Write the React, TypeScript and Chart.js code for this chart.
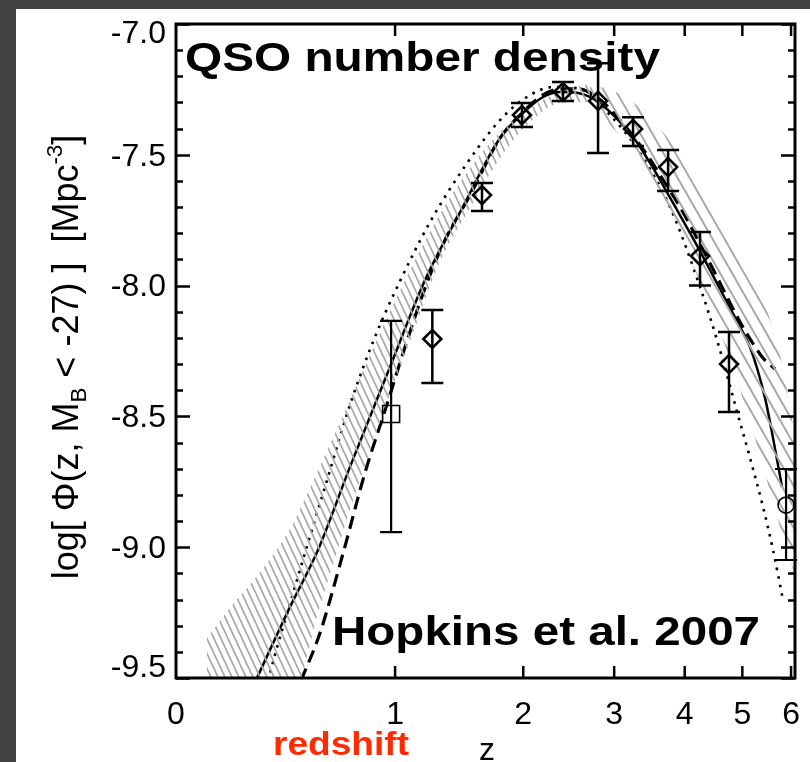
import React, { useEffect, useRef } from 'react';
import { Chart, registerables } from 'chart.js';

Chart.register(...registerables);

// ---------- axis ticks ----------
const zTicks = [0, 1, 2, 3, 4, 5, 6];
const zTickLabels = ['0', '1', '2', '3', '4', '5', '6'];
const yMajorTicks = [-7.0, -7.5, -8.0, -8.5, -9.0, -9.5];
const yTickLabels = ['-7.0', '-7.5', '-8.0', '-8.5', '-9.0', '-9.5'];

// ---------- best fit (solid) ----------
const solidZ = [0.288, 0.434, 0.567, 0.734, 0.968, 1.199, 1.457, 1.788, 1.988, 2.194, 2.371, 2.568, 2.801, 3.245, 3.480, 3.819, 4.085, 4.248, 4.591, 4.956, 5.148, 5.447, 5.612, 5.803];
const solidY = [-9.508, -9.229, -9.011, -8.693, -8.311, -7.979, -7.719, -7.436, -7.344, -7.279, -7.260, -7.264, -7.298, -7.432, -7.531, -7.684, -7.799, -7.868, -8.013, -8.158, -8.235, -8.430, -8.583, -8.770];

// ---------- dashed model ----------
const dashedZ = [0.485, 0.577, 0.697, 0.818, 0.938, 1.064, 1.199, 1.342, 1.536, 1.788, 1.988, 2.194, 2.371, 2.568, 2.801, 3.074, 3.410, 3.669, 3.927, 4.248, 4.591, 4.956, 5.187, 5.406, 5.654];
const dashedY = [-9.511, -9.328, -9.022, -8.716, -8.476, -8.235, -8.009, -7.826, -7.654, -7.436, -7.340, -7.271, -7.248, -7.248, -7.283, -7.367, -7.489, -7.596, -7.700, -7.841, -7.990, -8.139, -8.216, -8.277, -8.319];

// ---------- dotted model ----------
const dottedZ = [0.338, 0.376, 0.434, 0.504, 0.613, 0.734, 0.877, 1.032, 1.234, 1.496, 1.788, 2.036, 2.296, 2.591, 2.948, 3.341, 3.773, 4.248, 4.538, 4.918, 5.148, 5.406, 5.612, 5.824];
const dottedY = [-9.511, -9.385, -9.217, -9.022, -8.743, -8.456, -8.196, -7.982, -7.757, -7.543, -7.367, -7.279, -7.241, -7.248, -7.348, -7.493, -7.700, -8.005, -8.208, -8.495, -8.659, -8.846, -9.011, -9.202];

// ---------- uncertainty band (rising side) ----------
const bandLeftZ = [0.103, 0.186, 0.305, 0.434, 0.577, 0.734, 0.907, 1.097, 1.305, 1.536, 1.788, 2.065, 2.371, 2.706];
const bandLeftUpper = [-9.347, -9.232, -9.095, -8.930, -8.690, -8.437, -8.181, -7.940, -7.726, -7.550, -7.413, -7.320, -7.258, -7.229];
const bandLeftLower = [-9.584, -9.584, -9.584, -9.584, -9.225, -8.858, -8.521, -8.212, -7.910, -7.703, -7.512, -7.375, -7.302, -7.298];

// ---------- uncertainty band (falling side) ----------
const bandRightZ = [2.706, 3.074, 3.480, 3.927, 4.417, 4.956, 5.345, 5.654, 5.977, 6.088];
const bandRightUpper = [-7.229, -7.268, -7.356, -7.501, -7.680, -7.883, -8.036, -8.189, -8.456, -8.590];
const bandRightLower = [-7.298, -7.432, -7.615, -7.826, -8.074, -8.399, -8.648, -8.858, -9.049, -9.106];

// ---------- data points ----------
const diamondZ = [1.25, 1.633, 1.988, 2.402, 2.801, 3.246, 3.744, 4.248, 4.752];
const diamondY = [-8.204, -7.654, -7.348, -7.260, -7.294, -7.401, -7.547, -7.887, -8.300];
const diamondLo = [-8.372, -7.715, -7.394, -7.294, -7.493, -7.466, -7.638, -8.000, -8.483];
const diamondHi = [-8.093, -7.608, -7.302, -7.222, -7.150, -7.356, -7.482, -7.795, -8.177];

const squareZ = [0.975];
const squareY = [-8.491];
const squareLo = [-8.942];
const squareHi = [-8.135];

const circleZ = [5.89];
const circleY = [-8.839];
const circleLo = [-9.049];
const circleHi = [-8.701];

// ---------- texts ----------
const titleText = 'QSO number density';
const refText = 'Hopkins et al. 2007';
const redshiftText = 'redshift';
const xTitleText = 'z';
const yTitlePieces = [
  { t: 'log[ Φ(z, M', s: 1, dy: 0 },
  { t: 'B', s: 0.62, dy: 0.22 },
  { t: ' < -27) ]  [Mpc', s: 1, dy: 0 },
  { t: '-3', s: 0.62, dy: -0.45 },
  { t: ']', s: 1, dy: 0 },
];

const FONT = '"Liberation Sans", Arial, Helvetica, sans-serif';
const lx = (z: number) => Math.log10(1 + z);
const pts = (zs: number[], ys: number[]) => zs.map((z, i) => ({ x: lx(z), y: ys[i] }));

function makeHatch(w: number, h: number, color: string, lw: number) {
  const c = document.createElement('canvas');
  c.width = w;
  c.height = h;
  const g = c.getContext('2d')!;
  g.strokeStyle = color;
  g.lineWidth = lw;
  for (const dx of [-w, 0, w]) {
    g.beginPath();
    g.moveTo(dx - w * 0.5, -h * 0.5);
    g.lineTo(dx + w * 1.5, h * 1.5);
    g.stroke();
  }
  return g.createPattern(c, 'repeat')!;
}

function stretchText(ctx: CanvasRenderingContext2D, text: string, x: number, y: number, font: string, align: CanvasTextAlign, target?: number) {
  ctx.font = font;
  const w = ctx.measureText(text).width;
  const sx = target ? target / w : 1;
  ctx.save();
  ctx.translate(x, y);
  ctx.scale(sx, 1);
  ctx.textAlign = align;
  ctx.textBaseline = 'alphabetic';
  ctx.fillText(text, 0, 0);
  ctx.restore();
}

const errorBarPlugin = {
  id: 'errBars',
  afterDatasetsDraw(chart: any) {
    const { ctx, scales } = chart;
    const x = scales.x;
    const y = scales.y;
    const groups = [
      { z: diamondZ, lo: diamondLo, hi: diamondHi, lw: 2.5 },
      { z: squareZ, lo: squareLo, hi: squareHi, lw: 2.2 },
      { z: circleZ, lo: circleLo, hi: circleHi, lw: 2.2 },
    ];
    ctx.save();
    ctx.strokeStyle = '#000';
    ctx.lineCap = 'butt';
    const half = 11;
    for (const g of groups) {
      ctx.lineWidth = g.lw;
      g.z.forEach((z, i) => {
        const px = x.getPixelForValue(lx(z));
        const p1 = y.getPixelForValue(g.lo[i]);
        const p2 = y.getPixelForValue(g.hi[i]);
        ctx.beginPath();
        ctx.moveTo(px, p1);
        ctx.lineTo(px, p2);
        ctx.moveTo(px - half, p1);
        ctx.lineTo(px + half, p1);
        ctx.moveTo(px - half, p2);
        ctx.lineTo(px + half, p2);
        ctx.stroke();
      });
    }
    ctx.restore();
  },
};

const framePlugin = {
  id: 'frameTicks',
  afterDraw(chart: any) {
    const { ctx, chartArea: a, scales } = chart;
    const x = scales.x;
    const y = scales.y;
    ctx.save();
    ctx.strokeStyle = '#000';
    ctx.lineWidth = 2.5;
    ctx.beginPath();
    for (let i = 0; i <= 25; i++) {
      const v = -9.5 + i * 0.1;
      const py = Math.round(y.getPixelForValue(v)) + 0.5;
      const len = i % 5 === 0 ? 14 : 7;
      ctx.moveTo(a.left, py);
      ctx.lineTo(a.left + len, py);
      ctx.moveTo(a.right, py);
      ctx.lineTo(a.right - len, py);
    }
    zTicks.forEach((z) => {
      if (z === 0) return;
      const px = x.getPixelForValue(lx(z));
      ctx.moveTo(px, a.bottom);
      ctx.lineTo(px, a.bottom - 12);
      ctx.moveTo(px, a.top);
      ctx.lineTo(px, a.top + 12);
    });
    ctx.stroke();
    ctx.lineWidth = 3;
    ctx.strokeRect(a.left, a.top, a.right - a.left, a.bottom - a.top);

    ctx.fillStyle = '#000';
    ctx.font = `32px ${FONT}`;
    ctx.textAlign = 'right';
    ctx.textBaseline = 'middle';
    yMajorTicks.forEach((v, i) => {
      let py = y.getPixelForValue(v) + 2;
      py = Math.max(a.top + 10, Math.min(a.bottom - 10, py));
      ctx.fillText(yTickLabels[i], 166, py);
    });
    ctx.textAlign = 'center';
    ctx.textBaseline = 'alphabetic';
    zTicks.forEach((z, i) => {
      const px = x.getPixelForValue(lx(z));
      ctx.fillText(zTickLabels[i], px, 724);
    });

    ctx.font = `32px ${FONT}`;
    ctx.fillText(xTitleText, 487, 760);
    ctx.fillStyle = '#ff2a00';
    stretchText(ctx, redshiftText, 341, 755, `bold 34px ${FONT}`, 'center', 136);

    ctx.fillStyle = '#000';
    const base = 36;
    ctx.save();
    ctx.translate(78, 357);
    ctx.rotate(-Math.PI / 2);
    let total = 0;
    for (const p of yTitlePieces) {
      ctx.font = `${base * p.s}px ${FONT}`;
      total += ctx.measureText(p.t).width;
    }
    let cx = -total / 2;
    ctx.textAlign = 'left';
    ctx.textBaseline = 'alphabetic';
    for (const p of yTitlePieces) {
      ctx.font = `${base * p.s}px ${FONT}`;
      ctx.fillText(p.t, cx, p.dy * base);
      cx += ctx.measureText(p.t).width;
    }
    ctx.restore();

    stretchText(ctx, titleText, 185, 71, `bold 41px ${FONT}`, 'left', 475);
    stretchText(ctx, refText, 332, 645, `bold 41px ${FONT}`, 'left', 428);
    ctx.restore();
  },
};

export default function App() {
  const ref = useRef<HTMLCanvasElement>(null);
  useEffect(() => {
    const canvas = ref.current!;
    const hatchLeft = makeHatch(7, 15, '#a8a8a8', 1.7);
    const hatchRight = makeHatch(12, 21, '#a8a8a8', 2);
    const lineBase = { pointRadius: 0, fill: false, cubicInterpolationMode: 'monotone' as const, order: 5 };
    const bandBase = { borderWidth: 0, pointRadius: 0, borderColor: 'rgba(0,0,0,0)', cubicInterpolationMode: 'monotone' as const, order: 3 };
    const chart = new Chart(canvas, {
      type: 'line',
      data: {
        datasets: [
          { ...bandBase, data: pts(bandLeftZ, bandLeftUpper), fill: '+1', backgroundColor: hatchLeft },
          { ...bandBase, data: pts(bandLeftZ, bandLeftLower), fill: false },
          { ...bandBase, data: pts(bandRightZ, bandRightUpper), fill: '+1', backgroundColor: hatchRight },
          { ...bandBase, data: pts(bandRightZ, bandRightLower), fill: false },
          { ...lineBase, data: pts(dottedZ, dottedY), borderColor: '#000', borderWidth: 2.6, borderDash: [2.6, 6] },
          { ...lineBase, data: pts(dashedZ, dashedY), borderColor: '#000', borderWidth: 3.2, borderDash: [13, 7] },
          { ...lineBase, data: pts(solidZ, solidY), borderColor: '#000', borderWidth: 2.5 },
          { data: pts(squareZ, squareY), showLine: false, pointStyle: 'rect', pointRadius: 12, borderWidth: 1.6, borderColor: '#000', backgroundColor: 'rgba(0,0,0,0)', order: 1 },
          { data: pts(diamondZ, diamondY), showLine: false, pointStyle: 'rectRot', pointRadius: 9, borderWidth: 2.6, borderColor: '#000', backgroundColor: 'rgba(0,0,0,0)', order: 1 },
          { data: pts(circleZ, circleY), showLine: false, pointStyle: 'circle', pointRadius: 8, borderWidth: 1.6, borderColor: '#000', backgroundColor: 'rgba(0,0,0,0)', order: 1 },
        ] as any,
      },
      options: {
        responsive: false,
        maintainAspectRatio: false,
        animation: false,
        events: [],
        layout: { padding: { left: 176, top: 24, right: 15, bottom: 84 } },
        scales: {
          x: { type: 'linear', min: 0, max: 0.8505, display: false },
          y: { type: 'linear', min: -9.5, max: -7.0, display: false },
        },
        plugins: { legend: { display: false }, tooltip: { enabled: false }, title: { display: false } },
      },
      plugins: [errorBarPlugin, framePlugin],
    });
    return () => chart.destroy();
  }, []);
  return (
    <>
      <style>{'html,body{margin:0;padding:0;overflow:hidden;background:#ffffff;}'}</style>
      <div style={{ position: 'fixed', left: 0, top: 0, width: 810, height: 762, background: '#434343', overflow: 'hidden' }}>
        <div style={{ position: 'absolute', left: 16, top: 9, right: 0, bottom: 0, background: '#ffffff' }} />
        <canvas ref={ref} width={810} height={762} style={{ position: 'absolute', left: 0, top: 0, display: 'block', width: 810, height: 762 }} />
      </div>
    </>
  );
}
